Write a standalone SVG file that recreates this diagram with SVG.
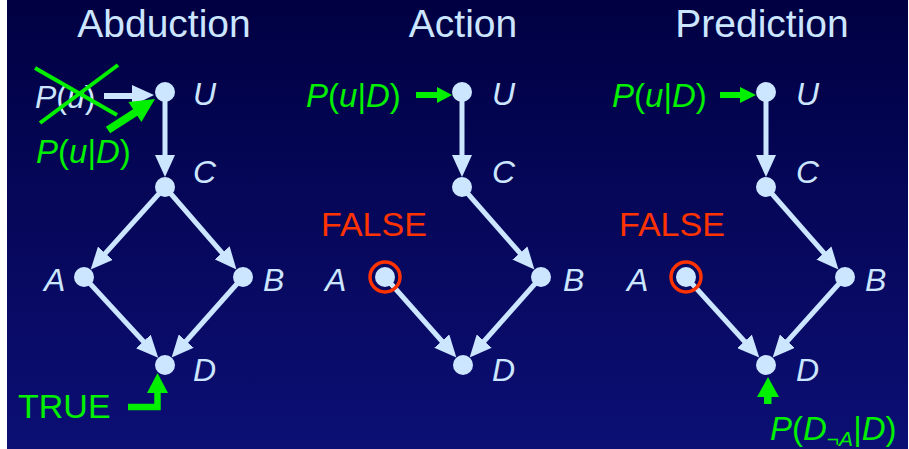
<svg xmlns="http://www.w3.org/2000/svg" width="909" height="449" viewBox="0 0 909 449">
<defs>
<linearGradient id="bg" x1="0" y1="0" x2="0" y2="1">
<stop offset="0" stop-color="#000042"/>
<stop offset="1" stop-color="#0c0f74"/>
</linearGradient>
<marker id="ah" markerUnits="userSpaceOnUse" markerWidth="22" markerHeight="20" viewBox="0 0 22 20" refX="10" refY="10" orient="auto">
<path d="M0,0 L22,10 L0,20 z" fill="#cce6ff"/>
</marker>
<style>
.t{font-family:"Liberation Sans",Arial,sans-serif;fill:#cce6ff;font-size:39px}
.l{font-family:"Liberation Sans",Arial,sans-serif;fill:#cce6ff;font-size:32px;font-style:italic}
.g{font-family:"Liberation Sans",Arial,sans-serif;fill:#00f000;font-size:33px;font-style:italic}
.u{font-style:normal}
.r{font-family:"Liberation Sans",Arial,sans-serif;fill:#ff3300;font-size:34px}
.e{stroke:#cce6ff;stroke-width:5;fill:none;marker-end:url(#ah)}
.n{fill:#cce6ff}
.ga{stroke:#00f000;fill:none}
.gf{fill:#00f000}
</style>
</defs>
<rect x="0" y="0" width="909" height="449" fill="#ffffff"/>
<rect x="7" y="0" width="901" height="449" fill="url(#bg)"/>

<g id="titles">
<text class="t" x="164" y="37" text-anchor="middle">Abduction</text>
<text class="t" x="463" y="37" text-anchor="middle">Action</text>
<text class="t" x="762" y="37" text-anchor="middle">Prediction</text>
</g>

<g id="connectors">
<line class="e" x1="165" y1="92" x2="165" y2="165"/>
<line class="e" x1="165" y1="187" x2="98.7" y2="260.7"/>
<line class="e" x1="165" y1="187" x2="228.6" y2="260.4"/>
<line class="e" x1="84" y1="277" x2="150.1" y2="348.8"/>
<line class="e" x1="243" y1="277" x2="179.6" y2="348.5"/>

<line class="e" x1="462" y1="92" x2="462" y2="165"/>
<line class="e" x1="462" y1="187" x2="526.5" y2="260.5"/>
<line class="e" x1="385" y1="277" x2="448.4" y2="348.5"/>
<line class="e" x1="541" y1="277" x2="477.6" y2="348.5"/>

<line class="e" x1="766" y1="92" x2="766" y2="165"/>
<line class="e" x1="766" y1="187" x2="830.5" y2="260.5"/>
<line class="e" x1="686" y1="277" x2="751.2" y2="348.7"/>
<line class="e" x1="845" y1="277" x2="780.7" y2="348.6"/>

<line x1="104" y1="96" x2="135" y2="96" stroke="#cce6ff" stroke-width="6"/>
<polygon points="132,85 154,95 132,106" fill="#cce6ff"/>

<line class="ga" x1="108" y1="130" x2="136" y2="112" stroke-width="8"/>
<polygon class="gf" points="128.4,102.1 155,99 141.4,122.1"/>

<line class="ga" x1="416" y1="95" x2="440" y2="95" stroke-width="6"/>
<polygon class="gf" points="437,87 452,95 437,103"/>
<line class="ga" x1="720" y1="95" x2="743" y2="95" stroke-width="6"/>
<polygon class="gf" points="740,87 756,95 740,103"/>

<polyline class="ga" points="128,407 157.5,407 157.5,390" stroke-width="6.5"/>
<polygon class="gf" points="147,393 168,393 157.5,373"/>

<rect class="gf" x="764" y="395" width="7.5" height="9"/>
<polygon class="gf" points="757,397 779,397 768,377"/>
</g>

<g id="abduction">
<g id="a-U"><circle class="n" cx="165" cy="92" r="10"/><text class="l" x="193" y="105">U</text></g>
<g id="a-C"><circle class="n" cx="165" cy="187" r="10"/><text class="l" x="193" y="183">C</text></g>
<g id="a-A"><circle class="n" cx="84" cy="277" r="10"/><text class="l" x="44" y="291">A</text></g>
<g id="a-B"><circle class="n" cx="243" cy="277" r="10"/><text class="l" x="263" y="291">B</text></g>
<g id="a-D"><circle class="n" cx="165" cy="365" r="10"/><text class="l" x="193" y="381">D</text></g>
<g id="a-prior">
<text class="l" x="35" y="108">P<tspan class="u">(</tspan>u<tspan class="u">)</tspan></text>
<line class="ga" x1="35" y1="68" x2="117" y2="115" stroke-width="4"/>
<line class="ga" x1="40" y1="123" x2="118" y2="65" stroke-width="4"/>
</g>
<g id="a-post"><text class="g" x="36" y="163">P<tspan class="u">(</tspan>u<tspan class="u">|</tspan>D<tspan class="u">)</tspan></text></g>
<g id="a-true"><text class="r" x="18" y="418" style="fill:#00f000">TRUE</text></g>
</g>

<g id="action">
<g id="b-U"><circle class="n" cx="462" cy="92" r="10"/><text class="l" x="492" y="105">U</text></g>
<g id="b-C"><circle class="n" cx="462" cy="187" r="10"/><text class="l" x="492" y="183">C</text></g>
<g id="b-A"><circle class="n" cx="385" cy="277" r="10"/><circle cx="385" cy="277" r="15" fill="none" stroke="#ff3300" stroke-width="3.5"/><text class="l" x="325" y="291">A</text></g>
<g id="b-B"><circle class="n" cx="541" cy="277" r="10"/><text class="l" x="563" y="291">B</text></g>
<g id="b-D"><circle class="n" cx="463" cy="365" r="10"/><text class="l" x="492" y="381">D</text></g>
<g id="b-false"><text class="r" x="321" y="236">FALSE</text></g>
<g id="b-post"><text class="g" x="306" y="107">P<tspan class="u">(</tspan>u<tspan class="u">|</tspan>D<tspan class="u">)</tspan></text></g>
</g>

<g id="prediction">
<g id="c-U"><circle class="n" cx="766" cy="92" r="10"/><text class="l" x="796" y="105">U</text></g>
<g id="c-C"><circle class="n" cx="766" cy="187" r="10"/><text class="l" x="796" y="183">C</text></g>
<g id="c-A"><circle class="n" cx="686" cy="277" r="10"/><circle cx="686" cy="277" r="15" fill="none" stroke="#ff3300" stroke-width="3.5"/><text class="l" x="627" y="291">A</text></g>
<g id="c-B"><circle class="n" cx="845" cy="277" r="10"/><text class="l" x="865" y="291">B</text></g>
<g id="c-D"><circle class="n" cx="766" cy="365" r="10"/><text class="l" x="796" y="381">D</text></g>
<g id="c-false"><text class="r" x="619" y="236">FALSE</text></g>
<g id="c-post"><text class="g" x="612" y="107">P<tspan class="u">(</tspan>u<tspan class="u">|</tspan>D<tspan class="u">)</tspan></text></g>
<g id="c-result"><text class="g" x="770" y="440">P<tspan class="u">(</tspan>D<tspan font-size="21" dy="6">¬A</tspan><tspan class="u" dy="-6">|</tspan>D<tspan class="u">)</tspan></text></g>
</g>
</svg>
